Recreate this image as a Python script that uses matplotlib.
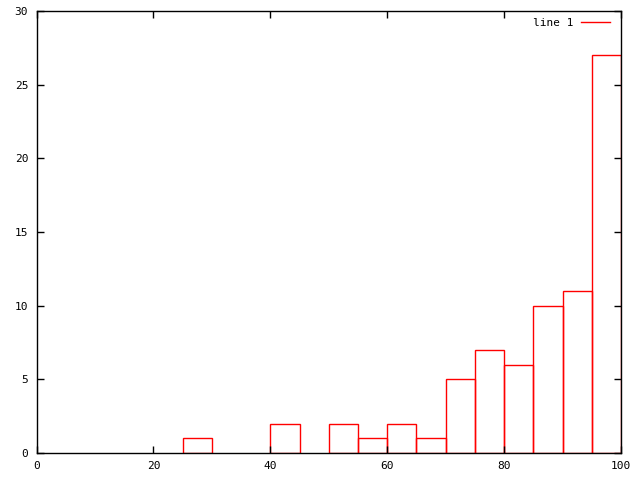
import matplotlib
matplotlib.use('Agg')
import matplotlib.pyplot as plt
from matplotlib.lines import Line2D

# bin left edges and counts (bin width 5)
bin_left = [0, 5, 10, 15, 20, 25, 30, 35, 40, 45, 50, 55, 60, 65, 70, 75, 80, 85, 90, 95]
counts = [0, 0, 0, 0, 0, 1, 0, 0, 2, 0, 2, 1, 2, 1, 5, 7, 6, 10, 11, 27]
x_ticks = [0, 20, 40, 60, 80, 100]
y_ticks = [0, 5, 10, 15, 20, 25, 30]

plt.rcParams['font.family'] = 'DejaVu Sans Mono'
plt.rcParams['font.size'] = 8

fig = plt.figure(figsize=(6.4, 4.8), dpi=100)
ax = fig.add_axes([36.5/640, 27/480, 584.5/640, 442/480])

nz = [(b, c) for b, c in zip(bin_left, counts) if c > 0]
ax.bar([b for b, c in nz], [c for b, c in nz], width=5, align='edge',
       fill=False, edgecolor='red', linewidth=1)

ax.set_xlim(0, 100)
ax.set_ylim(0, 30)
ax.set_xticks(x_ticks)
ax.set_yticks(y_ticks)
ax.tick_params(direction='in', top=True, right=True, length=5, width=1, pad=6)
for s in ax.spines.values():
    s.set_linewidth(1)

handle = Line2D([], [], color='red', linewidth=1)
leg = ax.legend([handle], ['line 1'], loc='upper right', frameon=False,
                markerfirst=False, handlelength=2.6, handletextpad=0.7,
                borderaxespad=0, borderpad=0, bbox_to_anchor=(0.981, 0.984))

fig.savefig('out.png', dpi=100)
